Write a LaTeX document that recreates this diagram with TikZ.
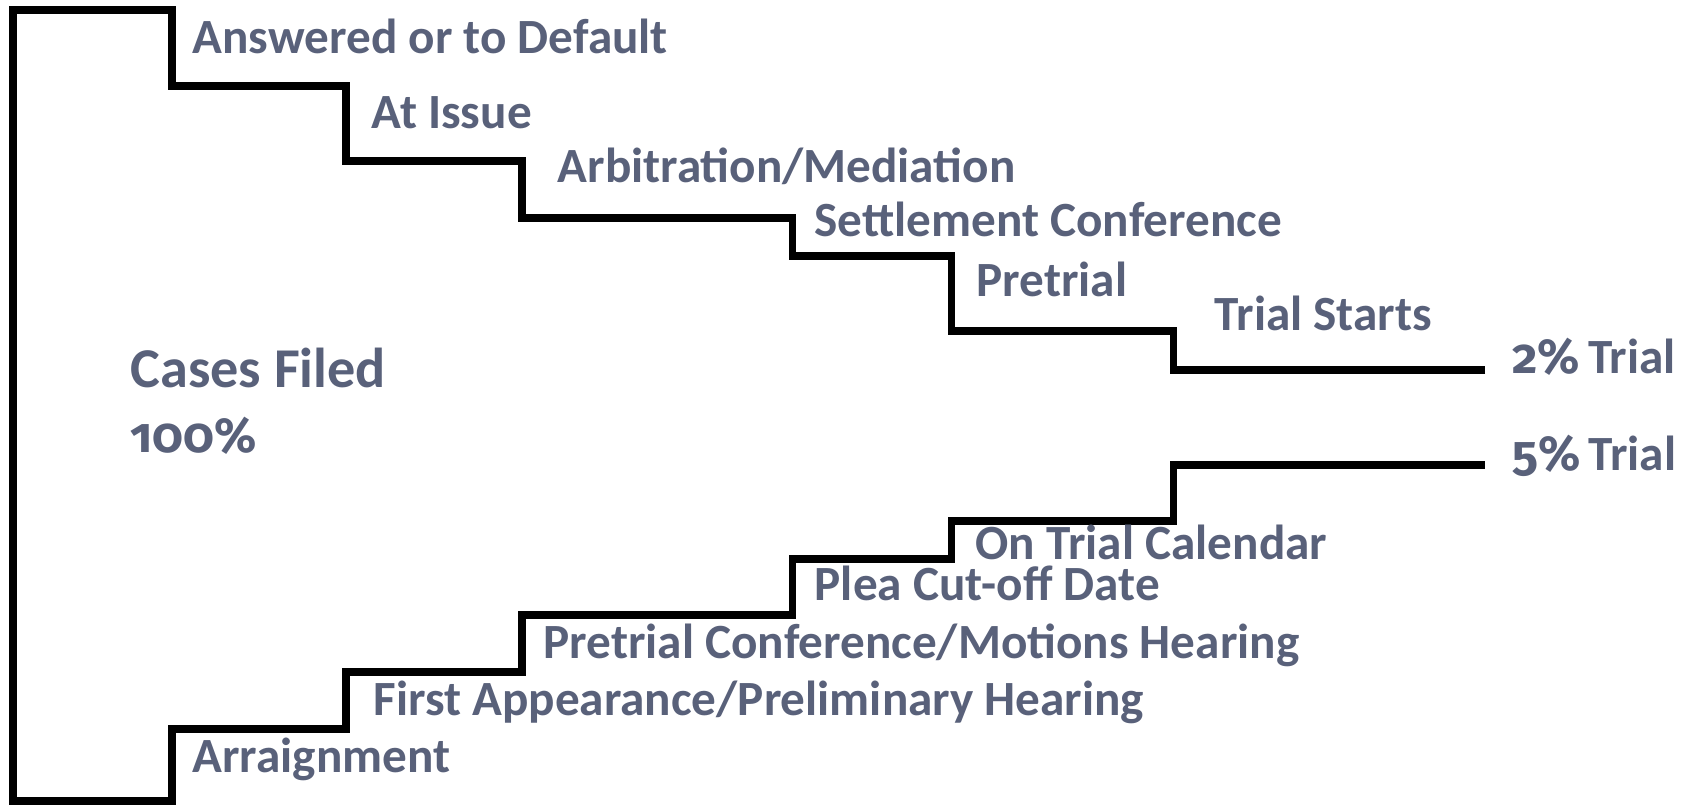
\documentclass[tikz,border=0pt]{standalone}
\usepackage{fontspec}
\setmainfont{Carlito}
\newfontfamily\numfont{Fira Sans}[Numbers=OldStyle]
\definecolor{slate}{RGB}{89,97,122}
\tikzset{lbl/.style={anchor=base west,inner sep=0pt,text=slate,font=\bfseries\fontsize{14}{16}\selectfont}}
\newcommand{\pct}[1]{{\numfont\bfseries #1}}
\begin{document}
\begin{tikzpicture}[x=1cm,y=1cm]
  \useasboundingbox (0,0) rectangle (16.87,8.05);
  % civil track (upper stairs)
  \coordinate (c0) at (1.72,7.95); \coordinate (c1) at (3.46,7.19);
  \coordinate (c2) at (5.22,6.44); \coordinate (c3) at (7.92,5.87);
  \coordinate (c4) at (9.51,5.49); \coordinate (c5) at (11.73,4.74);
  \coordinate (cend) at (14.85,4.35);
  % criminal track (lower stairs)
  \coordinate (k0) at (1.72,0.04); \coordinate (k1) at (3.46,0.76);
  \coordinate (k2) at (5.22,1.33); \coordinate (k3) at (7.92,1.90);
  \coordinate (k4) at (9.51,2.46); \coordinate (k5) at (11.73,2.84);
  \coordinate (kend) at (14.85,3.40);
  \draw[line width=2pt,line join=miter]
    (cend) -| (c5) -| (c4) -| (c3) -| (c2) -| (c1) -| (c0)
    -- (0.13,7.95) -- (0.13,0.04) -- (k0) |- (k1) |- (k2) |- (k3) |- (k4) |- (k5) |- (kend);
  \node[lbl] (ans) at (1.92,7.51) {Answered or to Default};
  \node[lbl] (iss) at (3.71,6.76) {At Issue};
  \node[lbl] (arb) at (5.57,6.22) {Arbitration/Mediation};
  \node[lbl] (set) at (8.14,5.68) {Settlement Conference};
  \node[lbl] (pre) at (9.76,5.08) {Pretrial};
  \node[lbl] (tst) at (12.14,4.75) {Trial Starts};
  \node[lbl] (civ) at (15.12,4.32) {\pct{2\%}\,Trial};
  \node[lbl] (crm) at (15.12,3.35) {\pct{5\%}\,Trial};
  \node[lbl,font=\bfseries\fontsize{16}{18}\selectfont] (cf) at (1.30,4.18) {Cases Filed};
  \node[lbl] (all) at (1.30,3.53) {\pct{100\%}};
  \node[lbl] (cal) at (9.75,2.46) {On Trial Calendar};
  \node[lbl] (plea) at (8.14,2.05) {Plea Cut-off Date};
  \node[lbl] (ptc) at (5.43,1.47) {Pretrial Conference/Motions Hearing};
  \node[lbl] (fa) at (3.73,0.90) {First Appearance/Preliminary Hearing};
  \node[lbl] (arr) at (1.92,0.33) {Arraignment};
\end{tikzpicture}
\end{document}
